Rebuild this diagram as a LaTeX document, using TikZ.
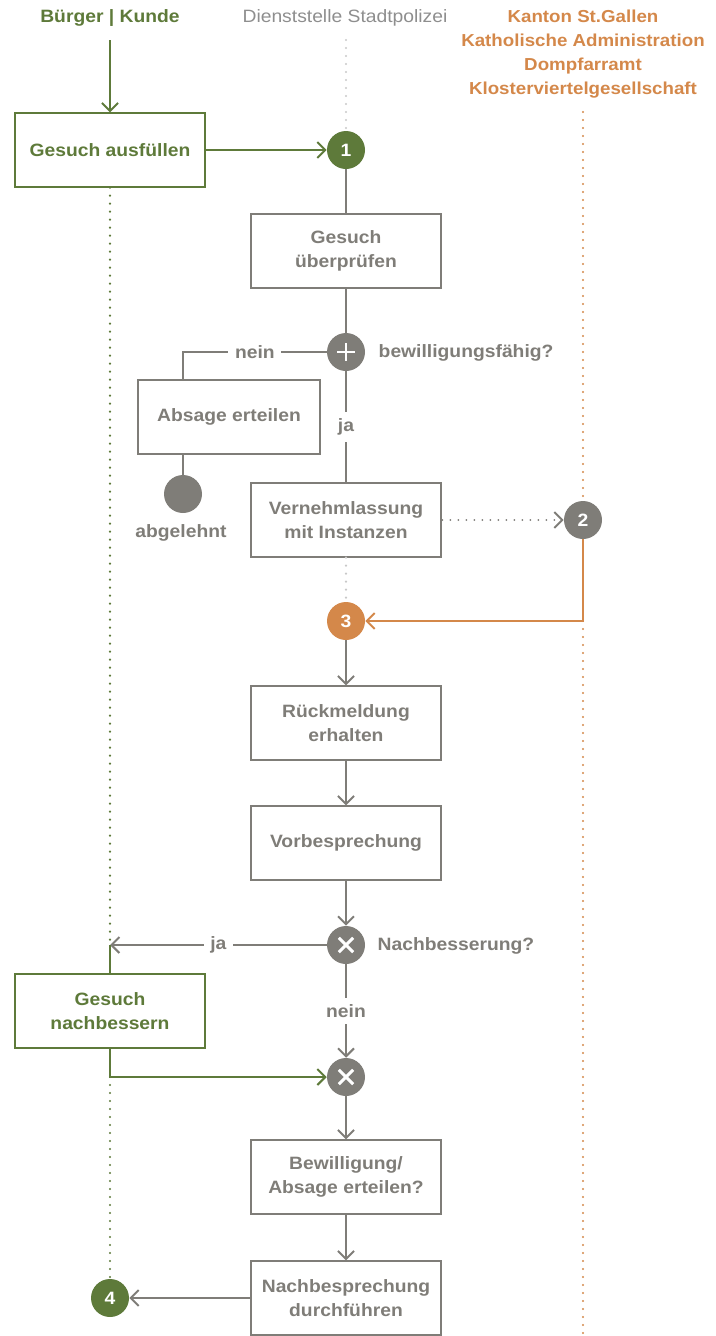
\documentclass[tikz,border=0pt]{standalone}
\usepackage{fontspec}
\setmainfont{Liberation Sans}[FakeStretch=1.08]
\usetikzlibrary{arrows.meta}
\definecolor{grn}{HTML}{5E7A3A}
\definecolor{gry}{HTML}{7F7D78}
\definecolor{org}{HTML}{D4884A}
\definecolor{lgry}{HTML}{C8C8C8}
\definecolor{hgry}{HTML}{8E8E8E}
\begin{document}
\begin{tikzpicture}
        [x=0.75pt,y=-0.75pt,
        font=\bfseries\fontsize{13.4}{18.5}\selectfont,
        task/.style={draw=gry,line width=1.5pt,text=gry,minimum width=143pt,
            minimum height=55pt,align=center,inner sep=0pt},
        gtask/.style={task,draw=grn,text=grn},
        num/.style={circle,minimum size=28.5pt,inner sep=0pt,text=white,fill=#1},
        gate/.style={circle,minimum size=28.5pt,inner sep=0pt,fill=gry},
        gateplus/.style={gate,path picture={
            \draw[white,line width=2.2pt]
            ([xshift=-6.4pt]path picture bounding box.center) -- ([xshift=6.4pt]path picture bounding box.center)
            ([yshift=-6.4pt]path picture bounding box.center) -- ([yshift=6.4pt]path picture bounding box.center);}},
        gatecross/.style={gate,path picture={
            \draw[white,line width=2.2pt]
            ([shift={(-5.4pt,-5.4pt)}]path picture bounding box.center) -- ([shift={(5.4pt,5.4pt)}]path picture bounding box.center)
            ([shift={(-5.4pt,5.4pt)}]path picture bounding box.center) -- ([shift={(5.4pt,-5.4pt)}]path picture bounding box.center);}},
        line/.style={draw=gry,line width=1.5pt},
        arr/.style={line,-{Straight Barb[length=6pt,width=12pt,line width=1.5pt]}},
        lane/.style={line width=1.8pt,dash pattern=on 0pt off 6pt,line cap=round},
        lbl/.style={fill=white,text=gry,inner sep=5pt}]
    \useasboundingbox (0,0) rectangle (716,1336);
    % headers
    \node[text=grn] (hbuerger) at (110,18) {Bürger | Kunde};
    \node[text=hgry,font=\mdseries\fontsize{13.4}{18}\selectfont] (hpolizei) at (345,18) {Dienststelle Stadtpolizei};
    \node[text=org,align=center,font=\bfseries\fontsize{13}{18}\selectfont] (hkanton) at (583,54)
        {Kanton St.Gallen\\Katholische Administration\\Dompfarramt\\Klosterviertelgesellschaft};
    \coordinate (gtop) at (110,40);
    \coordinate (stop) at (346,40);
    \coordinate (otop) at (583,112);
    \coordinate (obot) at (583,1336);
    % nodes
    \node[gtask] (ausf) at (110,150) {Gesuch ausfüllen};
    \node[num=grn] (n1) at (346,150) {1};
    \node[task] (pruef) at (346,251) {Gesuch\\überprüfen};
    \node[gateplus] (g1) at (346,352) {};
    \node[text=gry,anchor=west] (qbew) at (374,353) {bewilligungsfähig?};
    \node[task,minimum width=136pt] (absage) at (229,417) {Absage erteilen};
    \node[gate] (ende) at (183,494) {};
    \node[text=gry] (abgel) at (181,533) {abgelehnt};
    \node[task] (vern) at (346,520) {Vernehmlassung\\mit Instanzen};
    \node[num=gry] (n2) at (583,520) {2};
    \node[num=org] (n3) at (346,621) {3};
    \node[task] (rueck) at (346,723) {Rückmeldung\\erhalten};
    \node[task] (vorb) at (346,843) {Vorbesprechung};
    \node[gatecross] (g2) at (346,945) {};
    \node[text=gry,anchor=west] (qnach) at (373,946) {Nachbesserung?};
    \node[gtask] (nachb) at (110,1011) {Gesuch\\nachbessern};
    \node[gatecross] (g3) at (346,1077) {};
    \node[task] (bew) at (346,1177) {Bewilligung/\\Absage erteilen?};
    \node[task] (nachbespr) at (346,1298) {Nachbesprechung\\durchführen};
    \node[num=grn] (n4) at (110,1298) {4};
    \coordinate (njoin) at (183,352);
    \coordinate (ojoin) at (583,621);
    \coordinate (jaend) at (110,945);
    \coordinate (gjoin) at (110,1077);
    % lanes
    \draw[lane,grn] (ausf) -- (jaend);
    \draw[lane,grn] (gjoin) -- (n4);
    \draw[lane,lgry] (stop) -- (n1);
    \draw[lane,lgry] (vern) -- (n3);
    \draw[lane,org] (otop) -- (n2);
    \draw[lane,org] (ojoin) -- (obot);
    % connectors
    \draw[arr,draw=grn] (gtop) -- (ausf);
    \draw[arr,draw=grn] (ausf) -- (n1);
    \draw[line] (n1) -- (pruef);
    \draw[line] (pruef) -- (g1);
    \draw[line] (g1) -- node[lbl] {nein} (njoin) -- (absage.north -| njoin);
    \draw[line] (absage.south -| ende) -- (ende);
    \draw[line] (g1) -- node[lbl] {ja} (vern);
    \draw[arr,dash pattern=on 0pt off 6pt,line cap=round] (vern) -- (n2);
    \draw[arr,draw=org] (n2) -- (ojoin) -- (n3);
    \draw[arr] (n3) -- (rueck);
    \draw[arr] (rueck) -- (vorb);
    \draw[arr] (vorb) -- (g2);
    \draw[arr] (g2) -- node[lbl] {ja} (jaend);
    \draw[line,draw=grn] (nachb) -- (jaend);
    \draw[arr] (g2) -- node[lbl] {nein} (g3);
    \draw[arr,draw=grn] (nachb) -- (gjoin) -- (g3);
    \draw[arr] (g3) -- (bew);
    \draw[arr] (bew) -- (nachbespr);
    \draw[arr] (nachbespr) -- (n4);
\end{tikzpicture}
\end{document}
